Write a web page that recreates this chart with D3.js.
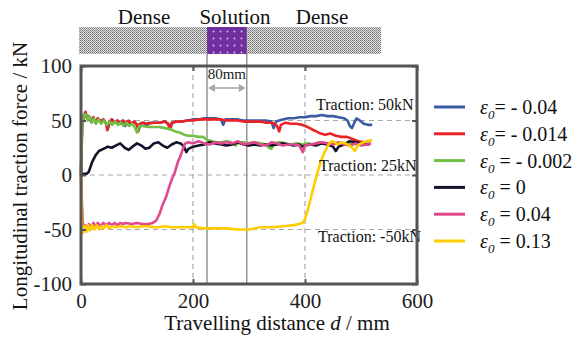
<!DOCTYPE html>
<html>
<head>
<meta charset="utf-8">
<script src="https://cdn.jsdelivr.net/npm/d3@7"></script>
<style>
  body { margin: 0; background: #fff; }
  svg, svg text { font-family: "Liberation Serif", "Times New Roman", serif; }
</style>
</head>
<body>
<svg width="582" height="338"></svg>
<script>
// axis ticks
var xTicks = [0, 200, 400, 600];
var yTicks = [-100, -50, 0, 50, 100];
var refLines = [50, 0, -50];
var solutionBounds = [225, 296]; // mm, solution zone

// curves: [distance mm, force kN]
var serBlue = [[0,0],[2,44],[5,55],[8,57],[11,52],[14,54],[18,49],[22,53],[26,48],[30,52],[35,49],[40,51],[45,47],[48,42],[51,48],[55,51],[60,48],[65,50],[70,47],[75,50],[79,45],[82,49],[90,47],[95,49],[100,46],[103,41],[106,47],[112,48],[118,45],[121,48],[130,48],[140,48],[150,49],[156,47],[160,43],[163,48],[172,49],[180,49],[190,50],[200,51],[210,51],[220,52],[230,52],[240,52],[250,51],[254,46],[258,51],[270,51],[280,51],[290,50],[300,50],[310,50],[320,50],[330,50],[340,49],[344,43],[348,49],[360,51],[370,52],[380,52],[390,53],[400,53],[410,54],[420,54],[430,55],[440,54],[450,54],[460,53],[470,52],[476,50],[480,45],[484,43],[488,48],[492,52],[498,50],[505,47],[512,46],[520,46]];
var serRed = [[0,0],[2,45],[5,55],[8,58],[11,52],[14,54],[18,49],[22,53],[26,48],[30,52],[35,49],[40,51],[45,47],[47,41],[50,48],[55,51],[60,48],[65,50],[70,47],[75,50],[80,48],[85,50],[90,47],[95,49],[100,46],[102,40],[105,47],[110,48],[120,47],[130,48],[140,48],[150,49],[155,47],[159,42],[162,48],[170,49],[180,49],[190,50],[200,50],[210,51],[220,51],[230,51],[240,51],[250,51],[260,50],[270,50],[280,50],[290,49],[300,49],[310,49],[320,49],[330,48],[340,48],[346,47],[350,45],[354,40],[357,46],[365,48],[375,47],[385,47],[395,46],[405,44],[412,42],[420,40],[428,38],[436,37],[445,38],[455,36],[465,35],[475,35],[485,33],[495,31],[505,30],[515,30]];
var serGreen = [[0,0],[1,30],[3,50],[6,56],[9,55],[12,50],[15,54],[19,48],[23,52],[27,47],[31,51],[36,47],[41,50],[46,46],[51,49],[56,46],[61,49],[66,46],[71,48],[76,45],[81,48],[86,45],[91,47],[96,44],[100,39],[104,45],[110,45],[120,44],[130,44],[140,44],[150,43],[160,42],[168,40],[176,39],[184,37],[192,36],[200,36],[210,35],[218,35],[226,32],[234,31],[242,30],[250,30],[260,31],[268,30],[276,27],[282,30],[290,30],[300,29],[310,30],[320,29],[330,28],[336,25],[340,24],[345,29],[355,30],[365,29],[375,28],[385,29],[395,28],[405,29],[415,28],[425,30],[435,29],[445,28],[455,29],[465,28],[475,29],[485,28],[495,29],[505,28],[515,30]];
var serBlack = [[0,0],[5,1],[10,1],[14,3],[20,12],[26,18],[32,22],[40,24],[48,26],[55,25],[62,27],[70,29],[78,25],[85,23],[92,26],[100,29],[108,27],[115,24],[122,25],[130,29],[138,30],[146,27],[154,25],[162,28],[170,30],[178,29],[184,26],[188,21],[192,24],[200,26],[210,27],[220,28],[230,30],[240,29],[250,28],[260,27],[270,28],[280,30],[290,28],[300,27],[310,28],[320,27],[330,28],[340,27],[350,28],[360,29],[370,28],[380,27],[390,28],[395,26],[400,27],[410,28],[420,27],[430,29],[440,28],[450,26],[455,22],[460,26],[470,28],[480,31],[490,30],[500,29],[510,28],[515,28]];
var serPink = [[0,0],[2,-30],[4,-50],[7,-46],[10,-49],[14,-45],[18,-48],[22,-44],[26,-47],[30,-44],[35,-47],[40,-44],[45,-46],[50,-44],[55,-46],[60,-44],[65,-46],[70,-44],[75,-45],[80,-44],[90,-45],[100,-44],[110,-45],[120,-45],[128,-44],[134,-42],[140,-36],[146,-27],[152,-20],[158,-10],[163,-3],[168,3],[173,12],[178,18],[182,24],[186,29],[192,30],[200,29],[210,31],[220,29],[230,28],[240,30],[250,29],[260,30],[270,29],[280,31],[290,28],[300,29],[310,30],[320,28],[330,27],[340,30],[350,29],[360,27],[370,28],[380,28],[390,27],[396,21],[400,27],[410,28],[420,29],[430,30],[440,29],[450,28],[460,30],[470,28],[480,27],[490,29],[500,27],[510,28],[518,29]];
var serYellow = [[0,0],[1,-20],[2,-45],[4,-53],[7,-47],[10,-52],[13,-46],[16,-51],[20,-46],[24,-50],[28,-46],[32,-50],[36,-47],[40,-49],[45,-46],[50,-49],[55,-47],[60,-48],[70,-47],[80,-48],[90,-47],[100,-48],[110,-47],[120,-47],[130,-48],[140,-48],[150,-47],[160,-48],[170,-48],[180,-48],[190,-48],[200,-48],[202,-45],[205,-48],[220,-49],[240,-49],[260,-49],[280,-50],[295,-50],[300,-50],[310,-49],[320,-48],[340,-48],[360,-47],[380,-46],[390,-45],[398,-43],[404,-34],[410,-22],[416,-10],[422,2],[428,12],[434,20],[440,26],[445,30],[450,31],[458,28],[465,30],[472,29],[480,27],[486,24],[489,22],[494,27],[500,29],[510,31],[520,32]];

var seriesData = [serBlue, serRed, serGreen, serBlack, serPink, serYellow];
var seriesColors = ["#3b5ba5", "#ed2226", "#72bf44", "#13132b", "#e2488e", "#ffcc00"];
var legendEps = ["= - 0.04", "= - 0.014", " = - 0.002", " = 0", " = 0.04", " = 0.13"];
var tractionLabels = ["Traction: 50kN", "Traction: 25kN", "Traction: -50kN"];

var svg = d3.select("svg");
var pLeft = 81, pRight = 417, pTop = 66, pBottom = 284;

var x = d3.scaleLinear().domain([0, 600]).range([pLeft, pRight]);
var y = d3.scaleLinear().domain([-100, 100]).range([pBottom, pTop]);

// --- top strip: dense / solution / dense
var defs = svg.append("defs");
var dense = defs.append("pattern").attr("id", "dense")
  .attr("width", 2).attr("height", 2).attr("patternUnits", "userSpaceOnUse");
dense.append("rect").attr("width", 2).attr("height", 2).attr("fill", "#e4e4e4");
dense.append("rect").attr("width", 1).attr("height", 1).attr("fill", "#707070");
dense.append("rect").attr("x", 1).attr("y", 1).attr("width", 1).attr("height", 1).attr("fill", "#909090");
var sol = defs.append("pattern").attr("id", "sol")
  .attr("width", 7).attr("height", 7).attr("patternUnits", "userSpaceOnUse");
sol.append("rect").attr("width", 7).attr("height", 7).attr("fill", "#7030a0");
sol.append("circle").attr("cx", 3.5).attr("cy", 3.5).attr("r", 0.9).attr("fill", "#d9c6ea");

svg.append("rect").attr("x", 79).attr("y", 27).attr("width", 302).attr("height", 27)
  .attr("fill", "url(#dense)");
svg.append("rect").attr("x", x(solutionBounds[0])).attr("y", 27)
  .attr("width", x(solutionBounds[1]) - x(solutionBounds[0])).attr("height", 27)
  .attr("fill", "url(#sol)");

svg.append("g").selectAll("text")
  .data([["Dense", 144], ["Solution", 235], ["Dense", 322]])
  .enter().append("text")
  .attr("x", function(d) { return d[1]; })
  .attr("y", 24)
  .attr("text-anchor", "middle")
  .attr("font-size", 21)
  .attr("fill", "#111")
  .text(function(d) { return d[0]; });

// --- dashed reference lines
var grid = svg.append("g")
  .attr("stroke", "#a8a8a8").attr("stroke-width", 1.2).attr("stroke-dasharray", "5,4");
grid.selectAll(".h").data(refLines).enter().append("line")
  .attr("x1", pLeft).attr("x2", pRight)
  .attr("y1", function(d) { return y(d); }).attr("y2", function(d) { return y(d); });
grid.selectAll(".v").data([200, 400]).enter().append("line")
  .attr("y1", pTop).attr("y2", pBottom)
  .attr("x1", function(d) { return x(d); }).attr("x2", function(d) { return x(d); });

// solution zone bounds
svg.append("g").selectAll("line").data(solutionBounds).enter().append("line")
  .attr("x1", function(d) { return x(d); }).attr("x2", function(d) { return x(d); })
  .attr("y1", 54).attr("y2", pBottom)
  .attr("stroke", "#9a9a9a").attr("stroke-width", 1.6);

// 80mm arrow
var ay = 88, ax1 = x(solutionBounds[0]) + 1, ax2 = x(solutionBounds[1]) - 1;
svg.append("line").attr("x1", ax1 + 4).attr("x2", ax2 - 4).attr("y1", ay).attr("y2", ay)
  .attr("stroke", "#aaa").attr("stroke-width", 1.6);
svg.append("path").attr("d", "M" + ax1 + "," + ay + "l7,-4l0,8z").attr("fill", "#aaa");
svg.append("path").attr("d", "M" + ax2 + "," + ay + "l-7,-4l0,8z").attr("fill", "#aaa");
svg.append("text").attr("x", (ax1 + ax2) / 2).attr("y", 79).attr("text-anchor", "middle")
  .attr("font-size", 15).attr("fill", "#222").text("80mm");

// --- curves
var line = d3.line()
  .x(function(d) { return x(d[0]); })
  .y(function(d) { return y(d[1]); });

svg.append("g").selectAll("path").data(seriesData).enter().append("path")
  .attr("d", line)
  .attr("fill", "none")
  .attr("stroke", function(d, i) { return seriesColors[i]; })
  .attr("stroke-width", 2.6)
  .attr("stroke-linejoin", "round");

// traction labels
svg.append("g").selectAll("text")
  .data([[tractionLabels[0], 316, 110], [tractionLabels[1], 319, 171], [tractionLabels[2], 318, 242]])
  .enter().append("text")
  .attr("x", function(d) { return d[1]; })
  .attr("y", function(d) { return d[2]; })
  .attr("font-size", 16)
  .attr("fill", "#111")
  .text(function(d) { return d[0]; });

// --- axes and frame
function plain(d) { return String(d); } // keep hyphen minus like the original
function styleAxis(g) {
  g.attr("font-family", null).attr("font-size", null);
  g.select(".domain").remove();
  g.selectAll(".tick line").attr("stroke", "#555").attr("stroke-width", 2);
  g.selectAll(".tick text").style("font-family", "'Liberation Serif', serif")
    .style("font-size", "21px").attr("fill", "#222");
}
svg.append("g").attr("transform", "translate(0," + pBottom + ")")
  .call(d3.axisBottom(x).tickValues(xTicks).tickSize(-5).tickPadding(9).tickFormat(plain)).call(styleAxis);
svg.append("g").attr("transform", "translate(0," + pTop + ")")
  .call(d3.axisTop(x).tickValues(xTicks).tickSize(-5).tickFormat("")).call(styleAxis);
svg.append("g").attr("transform", "translate(" + pLeft + ",0)")
  .call(d3.axisLeft(y).tickValues(yTicks).tickSize(-5).tickPadding(9).tickFormat(plain)).call(styleAxis);
svg.append("g").attr("transform", "translate(" + pRight + ",0)")
  .call(d3.axisRight(y).tickValues(yTicks).tickSize(-5).tickFormat("")).call(styleAxis);

svg.append("rect").attr("x", pLeft).attr("y", pTop)
  .attr("width", pRight - pLeft).attr("height", pBottom - pTop)
  .attr("fill", "none").attr("stroke", "#555").attr("stroke-width", 3);

// axis titles
svg.append("text").attr("x", 277).attr("y", 330).attr("text-anchor", "middle")
  .attr("font-size", 21).attr("fill", "#111")
  .html('Travelling distance <tspan font-style="italic">d</tspan> / mm');
svg.append("text").attr("transform", "translate(27,176) rotate(-90)")
  .attr("text-anchor", "middle").attr("font-size", 21).attr("fill", "#111")
  .text("Longitudinal traction force / kN");

// --- legend
var legend = svg.append("g").selectAll("g").data(seriesColors).enter().append("g")
  .attr("transform", function(d, i) { return "translate(434," + (107 + i * 26.8) + ")"; });
legend.append("line").attr("x1", 0).attr("x2", 31)
  .attr("stroke", function(d) { return d; }).attr("stroke-width", 3);
var lt = legend.append("text").attr("x", 46).attr("y", 7).attr("font-size", 20).attr("fill", "#111");
lt.append("tspan").attr("font-style", "italic").text("ε");
lt.append("tspan").attr("font-style", "italic").attr("font-size", 13).attr("dy", 5).text("0");
lt.append("tspan").attr("dy", -5).attr("xml:space", "preserve")
  .text(function(d, i) { return legendEps[i]; });
</script>
</body>
</html>
